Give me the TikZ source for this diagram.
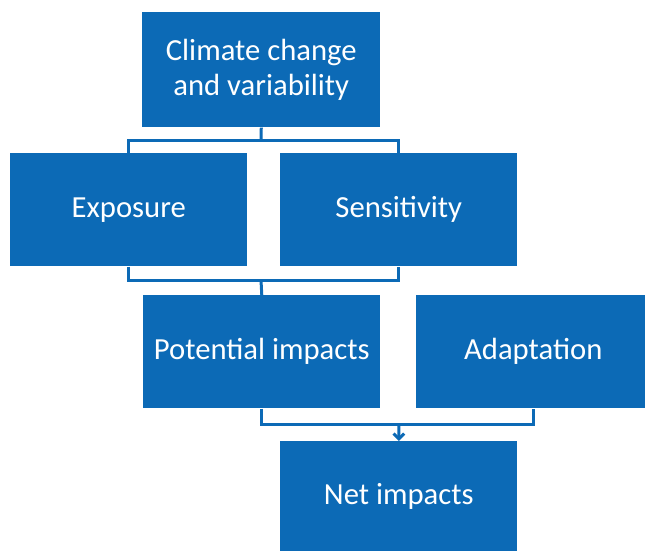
\documentclass[tikz,border=0pt]{standalone}
\usepackage{fontspec}
\setmainfont{Carlito}
\usetikzlibrary{arrows.meta}
\definecolor{boxblue}{RGB}{12,106,182}
\tikzset{
  blockbox/.style={draw=none,fill=boxblue,text=white,anchor=north west,inner sep=0pt,
    align=center,font=\fontsize{23}{26}\selectfont},
  linkline/.style={draw=boxblue,line width=2.25pt}
}
\begin{document}
\begin{tikzpicture}[x=0.75pt,y=0.75pt,yscale=-1,xscale=1]
\useasboundingbox (0,0) rectangle (645,551);

% Boxes
\node (clim) at (142,12) [blockbox,minimum width=178.5pt,minimum height=86.25pt] {Climate change\\and variability};
\node (expo) at (10,153) [blockbox,minimum width=177.75pt,minimum height=84.75pt] {Exposure};
\node (sens) at (280,153) [blockbox,minimum width=177.75pt,minimum height=84.75pt] {Sensitivity};
\node (pot) at (143,295) [blockbox,minimum width=177.75pt,minimum height=84.75pt] {Potential impacts};
\node (adap) at (416,295) [blockbox,minimum width=175.5pt,minimum height=84.75pt] {Adaptation};
\node (net) at (280,441) [blockbox,minimum width=177.75pt,minimum height=82.5pt] {Net impacts};

% Joints
\coordinate (fork1) at (261,140);
\coordinate (fork2) at (261,280);
\coordinate (fork3) at (399,424);

% Connectors
\draw [linkline] (clim.south) -- (fork1);
\draw [linkline] (expo.north) |- (fork1) -| (sens.north);
\draw [linkline] (expo.south) |- (fork2) -| (sens.south);
\draw [linkline] (fork2) -- (pot.north);
\draw [linkline] (pot.south) |- (fork3) -| (adap.south);
\draw [linkline,-{Straight Barb[length=4pt,width=8pt]}] (fork3) -- (net.north);

\end{tikzpicture}
\end{document}
